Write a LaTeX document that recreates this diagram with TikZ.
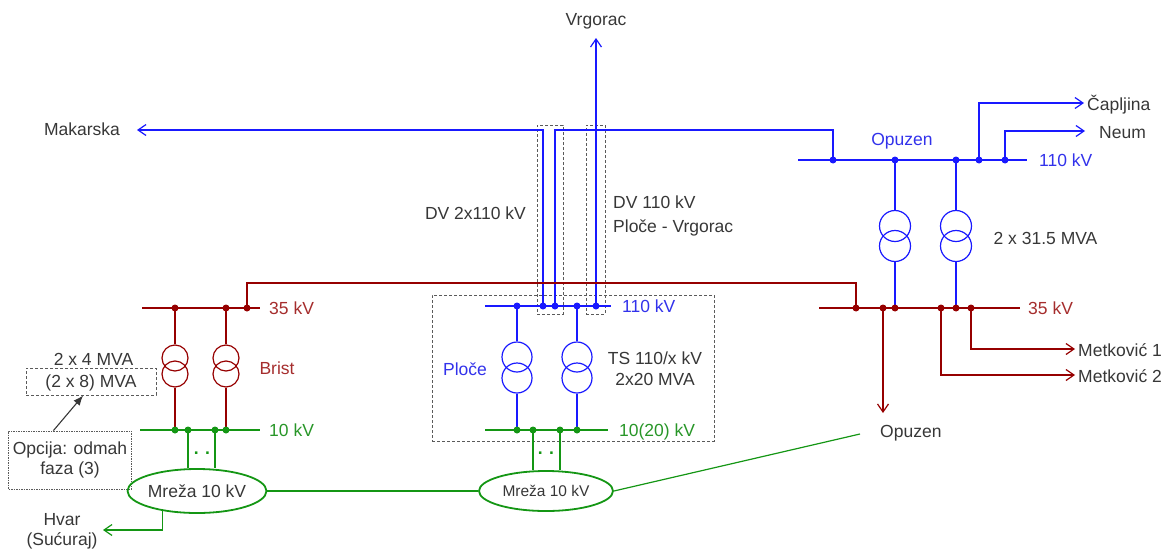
\documentclass[tikz,border=0pt]{standalone}
\usepackage{fontspec}
\setmainfont{Liberation Sans}
\usetikzlibrary{arrows.meta,shapes.geometric,calc}
\definecolor{cb}{RGB}{25,25,255}
\definecolor{cbl}{RGB}{50,50,235}
\definecolor{cr}{RGB}{150,0,0}
\definecolor{crl}{RGB}{165,45,45}
\definecolor{cg}{RGB}{20,150,20}
\definecolor{cgl}{RGB}{40,150,40}
\definecolor{ct}{RGB}{55,55,55}
\definecolor{cdash}{RGB}{90,90,90}
\begin{document}
\begin{tikzpicture}[x=1pt,y=-1pt,
  lbl/.style={inner sep=0pt, text height=12.6pt, text depth=0pt, font=\fontsize{17.5}{21}\selectfont, text=ct},
  lblm/.style={inner sep=0pt, align=center, font=\fontsize{17.5}{20}\selectfont, text=ct},
  bus/.style={line width=2.4pt},
  br/.style={line width=1.2pt},
  arr/.style={-{Straight Barb[length=8pt,width=11pt]}},
  tr/.style={circle, draw, line width=1.2pt, inner sep=0pt, minimum size=#1},
  dbox/.style={draw=cdash, dash pattern=on 3pt off 2pt, line width=0.9pt, inner sep=0pt},
  net/.style={ellipse, draw=cg, line width=1.8pt, inner sep=0pt, text=ct}
]
\useasboundingbox (0,0) rectangle (1169,554);

% ---------- coordinates ----------
% Ploce
\coordinate (p110w) at (485,306); \coordinate (p110e) at (611,306);
\coordinate (pd1) at (517,306); \coordinate (pd3) at (543,306); \coordinate (pd4) at (555,306);
\coordinate (pd2) at (577,306); \coordinate (pd5) at (596,306);
\coordinate (p10w) at (485,430); \coordinate (p10e) at (608,430);
\coordinate (pg1) at (517,430); \coordinate (pg2) at (533,430); \coordinate (pg3) at (560,430); \coordinate (pg4) at (577,430);
% Brist
\coordinate (b35w) at (142,308); \coordinate (b35e) at (260,308);
\coordinate (bd1) at (175,308); \coordinate (bd2) at (226,308); \coordinate (bd3) at (247,308);
\coordinate (b10w) at (140,430); \coordinate (b10e) at (260,430);
\coordinate (bg1) at (175,430); \coordinate (bg2) at (188,430); \coordinate (bg3) at (215,430); \coordinate (bg4) at (226,430);
% Opuzen
\coordinate (o110w) at (798,160); \coordinate (o110e) at (1027,160);
\coordinate (od1) at (833,160); \coordinate (od2) at (895,160); \coordinate (od3) at (956,160);
\coordinate (od4) at (979,160); \coordinate (od5) at (1005,160);
\coordinate (o35w) at (819,308); \coordinate (o35e) at (1020,308);
\coordinate (oa1) at (856,308); \coordinate (oa2) at (883,308); \coordinate (oa3) at (895,308);
\coordinate (oa4) at (941,308); \coordinate (oa5) at (956,308); \coordinate (oa6) at (971,308);
% bends and free ends
\coordinate (maktip) at (137,130);
\coordinate (kop) at (555,130);
\coordinate (vrgtip) at (596,38);
\coordinate (kred) at (247,283);
\coordinate (captip) at (1084,103);
\coordinate (neumtip) at (1085,131);
\coordinate (m1tip) at (1075,349);
\coordinate (m2tip) at (1075,375);
\coordinate (opztip) at (883,413);
\coordinate (opzg) at (860,434);
\coordinate (hvtip) at (103,530);

% ---------- dashed boxes ----------
\node[dbox, minimum width=26pt, minimum height=189pt] (db1) at (550,219.5) {};
\node[dbox, minimum width=19pt, minimum height=189pt] (db2) at (595.5,219.5) {};
\node[dbox, minimum width=282pt, minimum height=146pt] (pbox) at (573,368) {};
\node[dbox, lbl, minimum width=130pt, minimum height=27pt] (mvabox) at (91,381.5) {(2 x 8) MVA};
\node[lblm, draw=cdash, dash pattern=on 1.5pt off 1pt, line width=0.8pt, minimum width=123pt, minimum height=58pt] (opc) at (70,460) {Opcija: odmah\\faza (3)};

% ---------- ellipses ----------
\node[net, minimum width=125pt, minimum height=44pt, font=\fontsize{17.5}{21}\selectfont, text height=12.6pt, text depth=0pt] (eb) at (197,491) {Mreža 10 kV};
\node[net, minimum width=134pt, minimum height=40pt, font=\fontsize{15.5}{19}\selectfont, text height=11.2pt, text depth=0pt] (ep) at (546,491) {Mreža 10 kV};

% ---------- transformers ----------
\node[tr=26pt, draw=cr] (bt1a) at (175,358) {};
\node[tr=26pt, draw=cr] (bt1b) at (175,374) {};
\node[tr=26pt, draw=cr] (bt2a) at (226,358) {};
\node[tr=26pt, draw=cr] (bt2b) at (226,374) {};
\node[tr=30pt, draw=cb] (pt1a) at (517,357) {};
\node[tr=30pt, draw=cb] (pt1b) at (517,378) {};
\node[tr=30pt, draw=cb] (pt2a) at (577,357) {};
\node[tr=30pt, draw=cb] (pt2b) at (577,378) {};
\node[tr=31pt, draw=cb] (ot1a) at (895,226) {};
\node[tr=31pt, draw=cb] (ot1b) at (895,246) {};
\node[tr=31pt, draw=cb] (ot2a) at (956,226) {};
\node[tr=31pt, draw=cb] (ot2b) at (956,246) {};

% ---------- branch lines ----------
\draw[cb,br,arr] (pd3) |- (maktip);
\draw[cb,br] (pd4) -- (kop) -| (od1);
\draw[cb,br,arr] (pd5) -- (vrgtip);
\draw[cr,br] (bd3) -- (kred) -| (oa1);
\draw[cb,br,arr] (od4) |- (captip);
\draw[cb,br,arr] (od5) |- (neumtip);
\draw[cr,br,arr] (oa6) |- (m1tip);
\draw[cr,br,arr] (oa4) |- (m2tip);
\draw[cr,br,arr] (oa2) -- (opztip);
\draw[cg,br] (ep.east) -- (opzg);
\draw[cg,br] (eb.east) -- (ep.west);
\draw[cg,br,arr] (eb.210.7) |- (hvtip);
% transformer leads
\draw[cr,br] (bd1) -- (bt1a.north); \draw[cr,br] (bt1b.south) -- (bg1);
\draw[cr,br] (bd2) -- (bt2a.north); \draw[cr,br] (bt2b.south) -- (bg4);
\draw[cb,br] (pd1) -- (pt1a.north); \draw[cb,br] (pt1b.south) -- (pg1);
\draw[cb,br] (pd2) -- (pt2a.north); \draw[cb,br] (pt2b.south) -- (pg4);
\draw[cb,br] (od2) -- (ot1a.north); \draw[cb,br] (ot1b.south) -- (oa3);
\draw[cb,br] (od3) -- (ot2a.north); \draw[cb,br] (ot2b.south) -- (oa5);
% 10 kV feeders to networks
\draw[cg,br] (bg2) -- (bg2 |- eb.north);
\draw[cg,br] (bg3) -- (bg3 |- eb.north);
\draw[cg,br] (pg2) -- (pg2 |- ep.north);
\draw[cg,br] (pg3) -- (pg3 |- ep.north);

% ---------- buses ----------
\draw[cr,bus] (b35w) -- (b35e);
\draw[cg,bus] (b10w) -- (b10e);
\draw[cb,bus] (p110w) -- (p110e);
\draw[cg,bus] (p10w) -- (p10e);
\draw[cb,bus] (o110w) -- (o110e);
\draw[cr,bus] (o35w) -- (o35e);

% ---------- dots ----------
\foreach \c in {bd1,bd2,bd3,oa1,oa2,oa3,oa4,oa5,oa6} \fill[cr] (\c) circle (3.5pt);
\foreach \c in {bg1,bg2,bg3,bg4,pg1,pg2,pg3,pg4} \fill[cg] (\c) circle (3.5pt);
\foreach \c in {pd1,pd2,pd3,pd4,pd5,od1,od2,od3,od4,od5} \fill[cb] (\c) circle (3.5pt);

% ---------- annotation arrow ----------
\draw[-{Latex[length=10pt,width=8pt]}, line width=1.1pt, ct] ($(opc.north west)!0.366!(opc.north east)$) -- ($(mvabox.south west)!0.44!(mvabox.south east)$);

% ---------- labels ----------
\node[lbl] (lvrg) at (596,19) {Vrgorac};
\node[lbl] (lmak) at (82,129) {Makarska};
\node[lbl, anchor=west] (lcap) at (1087,104) {Čapljina};
\node[lbl, anchor=west] (lneum) at (1099,132) {Neum};
\node[lbl, text=cbl] (lopzb) at (902,139) {Opuzen};
\node[lbl, text=cbl, anchor=west] (lo110) at (1039,160) {110 kV};
\node[lbl] (lo315) at (1045.5,238) {2 x 31.5 MVA};
\node[lbl, text=crl, anchor=west] (lo35) at (1028,308) {35 kV};
\node[lbl, anchor=west] (lm1) at (1078,350) {Metković 1};
\node[lbl, anchor=west] (lm2) at (1078,376) {Metković 2};
\node[lbl, anchor=west] (lopz) at (880,431) {Opuzen};
\node[lbl, text=crl, anchor=west] (lb35) at (269,308) {35 kV};
\node[lbl, text=cgl, anchor=west] (lb10) at (269,430) {10 kV};
\node[lbl, text=crl] (lbrist) at (277,368) {Brist};
\node[lbl, text=cbl, anchor=west] (lp110) at (622,306) {110 kV};
\node[lbl, text=cgl, anchor=west] (lp10) at (619,430) {10(20) kV};
\node[lbl, text=cbl] (lploce) at (465,369) {Ploče};
\node[lbl] (ldv2) at (475.5,213) {DV 2x110 kV};
\node[lbl, anchor=west] (ldv1a) at (613,202) {DV 110 kV};
\node[lbl, anchor=west] (ldv1b) at (613,226) {Ploče - Vrgorac};
\node[lbl] (lts1) at (655,358) {TS 110/x kV};
\node[lbl] (lts2) at (655,379) {2x20 MVA};
\node[lbl] (l24) at (93.5,359) {2 x 4 MVA};
\node[lblm] (lhvar) at (62,531) {Hvar\\(Sućuraj)};
\node[inner sep=0pt, anchor=base, text=cg, font=\fontsize{17.5}{21}\selectfont\bfseries] (bdots) at (202,454) {. .};
\node[inner sep=0pt, anchor=base, text=cg, font=\fontsize{17.5}{21}\selectfont\bfseries] (pdots) at (546,454) {. .};
\end{tikzpicture}
\end{document}
